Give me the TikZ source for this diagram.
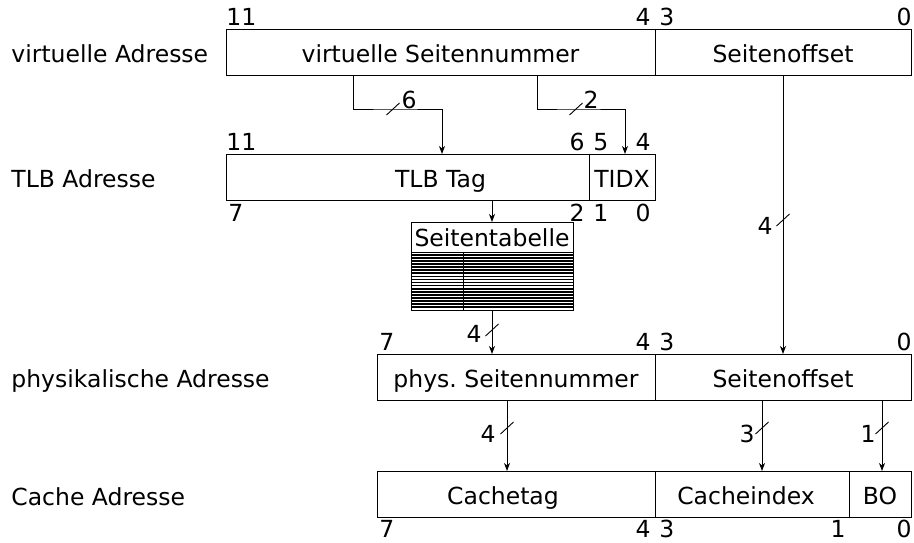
\documentclass[tikz,border=0pt]{standalone}
\usepackage{fontspec}
\setmainfont{DejaVu Sans}
\usepackage{tikz}
\usetikzlibrary{positioning,arrows.meta,calc}

\tikzset{
  field/.style={draw, line width=0.5pt, minimum height=23pt, inner sep=0pt, outer sep=0pt,
                text height=10pt, text depth=0pt, anchor=north west},
  bitno/.style={inner sep=0pt},
  arr/.style={-{Stealth[length=4pt,width=3pt,inset=1.2pt]}, line width=0.45pt},
  slash/.style={line width=0.45pt},
  rowlbl/.style={anchor=base west, inner sep=0pt},
}

% bus width mark: coordinate, width, label offset
\newcommand{\buswidth}[3]{%
  \draw[slash] ($(#1)+(-6.5,6)$) -- ($(#1)+(6.5,-6)$);
  \node[bitno] (#1lbl) at ($(#1)+#3$) {#2};}

\begin{document}
\begin{tikzpicture}[x=0.5pt, y=-0.5pt, font=\fontsize{11.75}{14}\selectfont]
  \useasboundingbox (0,0) rectangle (914,542);

  % row labels
  \node[rowlbl] (lvirt) at (11,62) {virtuelle Adresse};
  \node[rowlbl] (ltlb)  at (11,187) {TLB Adresse};
  \node[rowlbl] (lphys) at (11,387) {physikalische Adresse};
  \node[rowlbl] (lcache) at (11,505) {Cache Adresse};

  % virtual address
  \node[field, minimum width=214.5pt] (vpn) at (226,29) {virtuelle Seitennummer};
  \node[field, minimum width=128pt, right=0pt of vpn] (voff) {Seitenoffset};
  \node[bitno, anchor=south west] (v11) at ($(vpn.north west)+(0,-3)$) {11};
  \node[bitno, anchor=south east] (v4) at ($(vpn.north east)+(-4,-3)$) {4};
  \node[bitno, anchor=south west] (v3) at ($(voff.north west)+(4,-3)$) {3};
  \node[bitno, anchor=south east] (v0) at ($(voff.north east)+(1,-3)$) {0};

  % TLB address
  \node[field, minimum width=214.5pt] (tag) at (226,154) {TLB Tag};
  \node[field, fill=white, minimum width=33pt, anchor=north east] (tidx) at (tag.north east) {TIDX};
  \node[bitno, anchor=south west] (t11) at ($(tag.north west)+(0,-3)$) {11};
  \node[bitno, anchor=south east] (t6) at ($(tidx.north west)+(-4,-3)$) {6};
  \node[bitno, anchor=south west] (t5) at ($(tidx.north west)+(4,-3)$) {5};
  \node[bitno, anchor=south east] (t4) at ($(tidx.north east)+(-4,-3)$) {4};
  \node[bitno, anchor=north west] (t7) at ($(tag.south west)+(2,4)$) {7};
  \node[bitno, anchor=north east] (t2) at ($(tidx.south west)+(-4,4)$) {2};
  \node[bitno, anchor=north west] (t1) at ($(tidx.south west)+(4,4)$) {1};
  \node[bitno, anchor=north east] (t0) at ($(tidx.south east)+(-4,4)$) {0};

  % page table
  \node[field, minimum width=81pt, minimum height=15pt, text height=9pt] (pt) at (411,222) {Seitentabelle};
  \node[field, minimum width=81pt, minimum height=29pt, below=0pt of pt] (ptrows) {};
  \foreach \i in {1,...,18}
    \draw[line width=0.9pt] ($(ptrows.north west)+(0,3.05*\i)$) -- ($(ptrows.north east)+(0,3.05*\i)$);
  \draw[line width=0.5pt] ($(ptrows.north west)+(52,0)$) -- ($(ptrows.south west)+(52,0)$);

  % physical address
  \node[field, minimum width=139pt] (pnum) at (377,354) {phys.\ Seitennummer};
  \node[field, minimum width=128pt, right=0pt of pnum] (poff) {Seitenoffset};
  \node[bitno, anchor=south west] (p7) at ($(pnum.north west)+(2,-3)$) {7};
  \node[bitno, anchor=south east] (p4) at ($(pnum.north east)+(-4,-3)$) {4};
  \node[bitno, anchor=south west] (p3) at ($(poff.north west)+(4,-3)$) {3};
  \node[bitno, anchor=south east] (p0) at ($(poff.north east)+(1,-3)$) {0};

  % cache address
  \node[field, minimum width=139pt] (ctag) at (377,471) {};
  \node[field, minimum width=97pt, right=0pt of ctag] (cidx) {};
  \node[field, minimum width=31pt, right=0pt of cidx] (cbo) {BO};
  \node[text height=10pt, text depth=0pt, inner sep=0pt] (ctagtxt) at ($(ctag.center)+(-13,0)$) {Cachetag};
  \node[text height=10pt, text depth=0pt, inner sep=0pt] (cidxtxt) at ($(cidx.center)+(-6,0)$) {Cacheindex};
  \node[bitno, anchor=north west] (c7) at ($(ctag.south west)+(2,3)$) {7};
  \node[bitno, anchor=north east] (c4) at ($(ctag.south east)+(-4,3)$) {4};
  \node[bitno, anchor=north west] (c3) at ($(cidx.south west)+(4,3)$) {3};
  \node[bitno, anchor=north east] (c1) at ($(cidx.south east)+(-3,3)$) {1};
  \node[bitno, anchor=north east] (c0) at ($(cbo.south east)+(1,3)$) {0};

  % connections
  \coordinate (m6) at (393,109);
  \coordinate (m2) at (576,109);
  \coordinate (mo) at (783,220);
  \coordinate (mt) at (492,330);
  \coordinate (mc) at (507,428);
  \coordinate (mi) at (762,428);
  \coordinate (mb) at (882,428);

  \draw[arr] (vpn.south -| 353,0) |- (m6) -| (tag.north -| 442,0);
  \draw[arr] (vpn.south -| 537,0) |- (m2) -| (tidx.north -| 625,0);
  \draw[arr] (voff.south) -- (poff.north);
  \draw[arr] (tag.south -| pt.north) -- (pt.north);
  \draw[arr] (ptrows.south) -- (pnum.north -| ptrows.south);
  \draw[arr] (pnum.south -| mc) -- (ctag.north -| mc);
  \draw[arr] (poff.south -| mi) -- (cidx.north -| mi);
  \draw[arr] (poff.south -| mb) -- (cbo.north -| mb);

  \buswidth{m6}{6}{(16,-9)}
  \buswidth{m2}{2}{(15,-9)}
  \buswidth{mo}{4}{(-18,6)}
  \buswidth{mt}{4}{(-18,4)}
  \buswidth{mc}{4}{(-19,6)}
  \buswidth{mi}{3}{(-15,6)}
  \buswidth{mb}{1}{(-14,6)}
\end{tikzpicture}
\end{document}
